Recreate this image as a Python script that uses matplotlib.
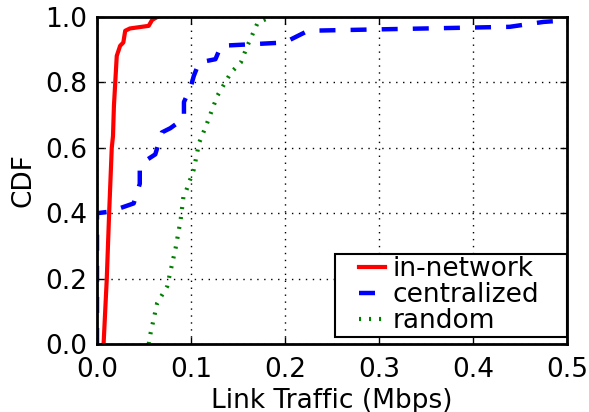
import matplotlib
matplotlib.use('Agg')
import matplotlib.pyplot as plt
from matplotlib.legend_handler import HandlerLine2D

# data
innet_x = [0.007, 0.0104, 0.0129, 0.0157, 0.017, 0.018, 0.021, 0.0246, 0.028, 0.030, 0.035, 0.055, 0.0586, 0.064]
innet_y = [0.0, 0.2, 0.4, 0.6, 0.636, 0.728, 0.881, 0.912, 0.922, 0.958, 0.965, 0.973, 0.991, 1.0]

central_x = [0.0, 0.0, 0.014, 0.039, 0.0455, 0.0455, 0.054, 0.062, 0.069, 0.078, 0.0925, 0.0925,
             0.0996, 0.103, 0.1086, 0.126, 0.132, 0.1996, 0.21, 0.2246, 0.439, 0.475, 0.4995, 0.52]
central_y = [0.0, 0.40, 0.405, 0.43, 0.49, 0.54, 0.565, 0.58, 0.647, 0.66, 0.69, 0.74,
             0.785, 0.82, 0.861, 0.871, 0.912, 0.922, 0.937, 0.958, 0.97, 0.985, 0.99, 1.0]

random_x = [0.055, 0.057, 0.064, 0.0746, 0.0836, 0.089, 0.092, 0.094, 0.103, 0.1086, 0.116,
            0.128, 0.1425, 0.153, 0.160, 0.171, 0.185]
random_y = [0.0, 0.033, 0.125, 0.176, 0.293, 0.38, 0.452, 0.462, 0.534, 0.615, 0.667,
            0.759, 0.83, 0.861, 0.912, 0.983, 1.0]

xticks = [0.0, 0.1, 0.2, 0.3, 0.4, 0.5]
yticks = [0.0, 0.2, 0.4, 0.6, 0.8, 1.0]

plt.rcParams['font.family'] = 'DejaVu Sans'
plt.rcParams['font.size'] = 19

fig = plt.figure(figsize=(5.89, 4.12), dpi=100)
ax = fig.add_axes([0.1647, 0.165, 0.7979, 0.7937])

ax.plot(innet_x, innet_y, color='red', lw=3, linestyle='-', label='in-network')
ax.plot(central_x, central_y, color='blue', lw=3.2, linestyle=(0, (3.6, 3.4)), label='centralized')
ax.plot(random_x, random_y, color='green', lw=3, linestyle=(0, (0.5, 1.9)), label='random')

ax.set_xlim(0, 0.5)
ax.set_ylim(0, 1.0)
ax.set_xticks(xticks)
ax.set_yticks(yticks)
ax.set_xticklabels(['%.1f' % v for v in xticks])
ax.set_yticklabels(['%.1f' % v for v in yticks])
ax.grid(True, color='black', linestyle=(0, (1, 4)), lw=1)
ax.tick_params(direction='in', length=5, width=1, top=True, right=True)
ax.tick_params(axis='x', pad=9)
ax.tick_params(axis='y', pad=7)
for s in ax.spines.values():
    s.set_linewidth(2)

ax.set_xlabel('Link Traffic (Mbps)', labelpad=4)
ax.set_ylabel('CDF', labelpad=6)

# legend: wide box, handles inset from the left like the old-style legend
leg = ax.legend(loc='lower right', bbox_to_anchor=(0.506, 0.0215, 0.494, 0.3), mode='expand',
                borderaxespad=0, handlelength=1.8, handletextpad=0.3, labelspacing=0.0,
                borderpad=0.1, fancybox=False, framealpha=1,
                handler_map={plt.Line2D: HandlerLine2D(xpad=0.8)})
leg.get_frame().set_edgecolor('black')
leg.get_frame().set_linewidth(1.5)

fig.savefig('out.png', dpi=100)
